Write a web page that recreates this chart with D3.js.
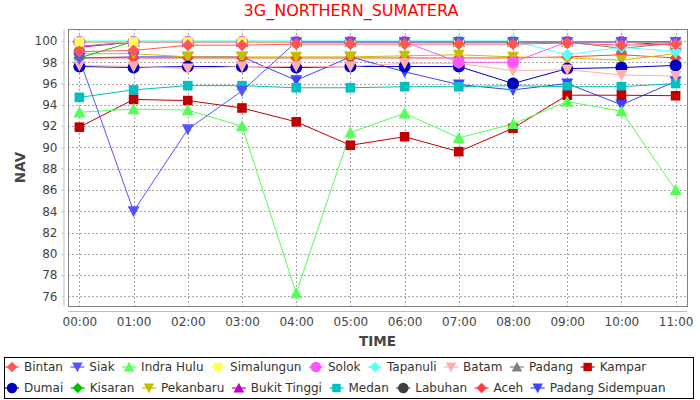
<!DOCTYPE html>
<html>
<head>
<meta charset="utf-8">
<script src="https://cdn.jsdelivr.net/npm/d3@7"></script>
<style>
  body { margin: 0; background: #fff; }
  svg { display: block; font-family: "DejaVu Sans", sans-serif; }
</style>
</head>
<body>
<div id="chart"></div>
<script>
const categories = ['00:00', '01:00', '02:00', '03:00', '04:00', '05:00', '06:00', '07:00', '08:00', '09:00', '10:00', '11:00'];
const yTicks = [76, 78, 80, 82, 84, 86, 88, 90, 92, 94, 96, 98, 100];

const seriesNames = ['Bintan', 'Siak', 'Indra Hulu', 'Simalungun', 'Solok', 'Tapanuli', 'Batam', 'Padang', 'Kampar',
  'Dumai', 'Kisaran', 'Pekanbaru', 'Bukit Tinggi', 'Medan', 'Labuhan', 'Aceh', 'Padang Sidempuan'];

const bintan      = [99.0, 99.1, 99.6, 99.6, 99.7, 99.7, 99.7, 99.7, 99.7, 99.8, 99.6, 99.7];
const siak        = [98.3, 84.0, 91.7, 95.3, 99.9, 99.9, 99.9, 99.9, 99.9, 99.9, 99.9, 99.9];
const indraHulu   = [93.3, 93.6, 93.5, 92.0, 76.3, 91.4, 93.2, 90.9, 92.2, 94.3, 93.4, 86.0];
const simalungun  = [99.9, 99.9, 99.9, 99.9, 99.9, 99.9, 99.9, 99.9, 99.9, 99.9, 99.9, 99.8];
const solok       = [99.9, 99.9, 99.9, 99.9, 99.9, 99.9, 99.9, 98.0, 98.0, 99.9, 99.9, 99.8];
const tapanuli    = [100.0, 100.0, 100.0, 100.0, 100.0, 100.0, 100.0, 100.0, 100.0, 98.7, 99.4, 99.0];
const batam       = [97.7, 97.6, 97.4, 97.6, 97.6, 97.6, 97.9, 97.9, 97.2, 97.3, 96.8, 96.7];
const padang      = [99.5, 99.9, 99.9, 99.9, 99.9, 99.9, 99.9, 99.9, 99.9, 99.9, 99.3, 99.8];
const kampar      = [91.9, 94.5, 94.4, 93.7, 92.4, 90.2, 91.0, 89.6, 91.8, 94.9, 94.9, 94.85];
const dumai       = [97.6, 97.5, 97.6, 97.6, 97.5, 97.6, 97.6, 97.6, 96.0, 97.4, 97.5, 97.7];
const kisaran     = [98.4, 99.95, 99.95, 99.95, 99.95, 99.95, 99.95, 99.95, 99.95, 99.95, 99.95, 99.9];
const pekanbaru   = [98.8, 98.8, 98.5, 98.5, 98.5, 98.5, 98.6, 98.7, 98.5, 98.4, 98.2, 98.8];
const bukitTinggi = [99.4, 99.9, 99.9, 99.9, 99.9, 99.9, 99.9, 99.9, 99.9, 99.9, 99.9, 99.6];
const medan       = [94.7, 95.4, 95.8, 95.8, 95.6, 95.6, 95.7, 95.7, 95.8, 95.7, 95.7, 96.0];
const labuhan     = [99.9, 99.9, 99.9, 99.9, 99.9, 99.9, 99.9, 99.9, 99.9, 99.9, 99.9, 99.8];
const aceh        = [98.4, 98.4, 98.4, 98.4, 98.4, 98.4, 98.4, 98.4, 98.4, 98.5, 98.7, 98.4];
const padangSid   = [98.4, 98.5, 98.5, 98.5, 96.3, 98.5, 97.1, 95.9, 95.4, 96.0, 94.0, 96.2];

const seriesValues = [bintan, siak, indraHulu, simalungun, solok, tapanuli, batam, padang, kampar,
  dumai, kisaran, pekanbaru, bukitTinggi, medan, labuhan, aceh, padangSid];

const seriesColors = ['#ff5555', '#5555ff', '#55ff55', '#ffff55', '#ff55ff', '#55ffff', '#ffafaf', '#808080', '#c00000',
  '#0000c0', '#00c000', '#c0c000', '#c000c0', '#00c0c0', '#404040', '#ff4040', '#4040ff'];
const seriesShapes = ['diamond', 'down', 'up', 'square', 'circle', 'diamond', 'down', 'up', 'square',
  'circle', 'diamond', 'down', 'up', 'square', 'circle', 'diamond', 'down'];

const width = 700;
const height = 400;
const plot = { left: 68, right: 687, top: 29, bottom: 306 };

const svg = d3.select('#chart')
  .append('svg')
  .attr('width', width)
  .attr('height', height);

const x = d3.scalePoint()
  .domain(categories)
  .range([plot.left, plot.right])
  .padding(0.21);

const y = d3.scaleLinear()
  .domain([75.1, 101.12])
  .range([plot.bottom, plot.top]);

// shape paths centred on 0,0
function shapePath(type, s) {
  const h = s / 2;
  if (type === 'diamond') return `M0,${-h}L${h},0L0,${h}L${-h},0Z`;
  if (type === 'down') return `M${-h},${-h * 0.85}L${h},${-h * 0.85}L0,${h}Z`;
  if (type === 'up') return `M0,${-h}L${h},${h * 0.85}L${-h},${h * 0.85}Z`;
  if (type === 'square') { const q = h * 0.8; return `M${-q},${-q}H${q}V${q}H${-q}Z`; }
  return d3.symbol(d3.symbolCircle, Math.PI * h * h)();
}

// title
svg.append('text')
  .attr('x', 351)
  .attr('y', 16)
  .attr('text-anchor', 'middle')
  .attr('fill', '#ff0000')
  .attr('font-size', 16)
  .text('3G_NORTHERN_SUMATERA');

// plot background + grid
svg.append('rect')
  .attr('x', plot.left)
  .attr('y', plot.top)
  .attr('width', plot.right - plot.left)
  .attr('height', plot.bottom - plot.top)
  .attr('fill', '#fff');

const grid = svg.append('g')
  .attr('stroke', '#a8a8a8')
  .attr('stroke-width', 1)
  .attr('stroke-dasharray', '2,2');

grid.selectAll('line.v')
  .data(categories)
  .join('line')
  .attr('class', 'v')
  .attr('x1', d => Math.round(x(d)) + 0.5)
  .attr('x2', d => Math.round(x(d)) + 0.5)
  .attr('y1', plot.top)
  .attr('y2', plot.bottom);

grid.selectAll('line.h')
  .data(yTicks)
  .join('line')
  .attr('class', 'h')
  .attr('x1', plot.left)
  .attr('x2', plot.right)
  .attr('y1', d => Math.round(y(d)) + 0.5)
  .attr('y2', d => Math.round(y(d)) + 0.5);

// axes
const yAxis = svg.append('g')
  .attr('transform', 'translate(63.5,0)')
  .call(d3.axisLeft(y).tickValues(yTicks).tickSize(2).tickSizeOuter(0).tickPadding(4));

const xAxis = svg.append('g')
  .attr('transform', `translate(0,${311.5})`)
  .call(d3.axisBottom(x).tickSize(0).tickSizeOuter(0).tickPadding(5.5));
xAxis.select('.domain').attr('d', `M${plot.left},0H${plot.right}`);

[yAxis, xAxis].forEach(g => {
  g.attr('font-family', '"DejaVu Sans", sans-serif').attr('font-size', 12);
  g.select('.domain').attr('stroke', '#bdbdbd');
  g.selectAll('.tick line').attr('stroke', '#bdbdbd');
  g.selectAll('.tick text').attr('fill', '#444');
});

svg.append('text')
  .attr('transform', `translate(25,${(plot.top + plot.bottom) / 2}) rotate(-90)`)
  .attr('text-anchor', 'middle')
  .attr('font-weight', 'bold')
  .attr('font-size', 13.5)
  .attr('fill', '#444')
  .text('NAV');

svg.append('text')
  .attr('x', (plot.left + plot.right) / 2)
  .attr('y', 346)
  .attr('text-anchor', 'middle')
  .attr('font-weight', 'bold')
  .attr('font-size', 13.5)
  .attr('fill', '#444')
  .text('TIME');

// series: lines first, then shapes; first series on top
const order = d3.range(seriesNames.length).reverse();
const line = d3.line()
  .x((d, i) => x(categories[i]))
  .y(d => y(d));

svg.append('g')
  .selectAll('path')
  .data(order)
  .join('path')
  .attr('d', i => line(seriesValues[i]))
  .attr('fill', 'none')
  .attr('stroke', i => seriesColors[i])
  .attr('stroke-width', 1);

const shapes = svg.append('g');
order.forEach(i => {
  shapes.append('g')
    .selectAll('path')
    .data(seriesValues[i])
    .join('path')
    .attr('transform', (d, j) => `translate(${x(categories[j])},${y(d)})`)
    .attr('d', shapePath(seriesShapes[i], 12))
    .attr('fill', seriesColors[i]);
});

// plot border
svg.append('rect')
  .attr('x', plot.left + 0.5)
  .attr('y', plot.top + 0.5)
  .attr('width', plot.right - plot.left)
  .attr('height', plot.bottom - plot.top)
  .attr('fill', 'none')
  .attr('stroke', '#808080');

// legend
svg.append('rect')
  .attr('x', 4.5)
  .attr('y', 357.5)
  .attr('width', 689)
  .attr('height', 41)
  .attr('fill', '#fff')
  .attr('stroke', '#000');

const legend = svg.append('g');
let lx = 5, row = 0;
const rowY = [367, 388];
seriesNames.forEach((name, i) => {
  const item = legend.append('g');
  const t = item.append('text')
    .attr('x', 19)
    .attr('dy', '0.35em')
    .attr('font-size', 12)
    .attr('fill', '#333')
    .text(name);
  const w = 19 + t.node().getComputedTextLength() + 7.5;
  if (lx + w > 692) { lx = 5; row += 1; }
  item.attr('transform', `translate(${lx},${rowY[row]})`);
  item.append('line')
    .attr('x1', 0).attr('x2', 14)
    .attr('stroke', seriesColors[i])
    .attr('stroke-width', 1.2);
  item.append('path')
    .attr('transform', 'translate(7,0)')
    .attr('d', shapePath(seriesShapes[i], 10.5))
    .attr('fill', seriesColors[i]);
  lx += w;
});
</script>
</body>
</html>
